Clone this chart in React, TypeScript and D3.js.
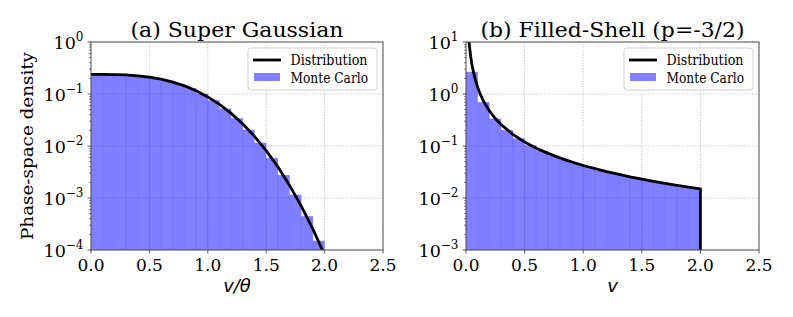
import React from 'react'
import * as d3 from 'd3'

// histogram bin edges (same for both panels)
const binEdges = [0.0, 0.1, 0.2, 0.3, 0.4, 0.5, 0.6, 0.7, 0.8, 0.9, 1.0, 1.1, 1.2, 1.3, 1.4, 1.5, 1.6, 1.7, 1.8, 1.9, 2.0]

// (a) super gaussian
const gaussCurveV = [0.0, 0.1, 0.2, 0.3, 0.4, 0.5, 0.6, 0.7, 0.8, 0.9, 1.0, 1.1, 1.2, 1.3, 1.4, 1.5, 1.6, 1.7, 1.8, 1.9, 2.0]
const gaussCurveF = [0.2387, 0.2385, 0.2368, 0.2323, 0.2239, 0.2107, 0.1923, 0.1693, 0.143, 0.1151, 0.0878, 0.0631, 0.0424, 0.0265, 0.01536, 0.00817, 0.00397, 0.00175, 0.0007, 0.000251, 0.00008]
const gaussHist = [0.2389, 0.2375, 0.2352, 0.2283, 0.2180, 0.2016, 0.1814, 0.1560, 0.1294, 0.1011, 0.0754, 0.0521, 0.0341, 0.0205, 0.01150, 0.00584, 0.00275, 0.00115, 0.000446, 0.000150]

// (b) filled shell p=-3/2
const shellCurveV = [0.02, 0.025, 0.03, 0.04, 0.05, 0.06, 0.08, 0.1, 0.12, 0.15, 0.2, 0.25, 0.3, 0.4, 0.5, 0.6, 0.7, 0.8, 0.9, 1.0, 1.2, 1.4, 1.6, 1.8, 2.0, 2.0]
const shellCurveF = [14.92, 10.68, 8.12, 5.275, 3.775, 2.871, 1.865, 1.3345, 1.015, 0.7264, 0.4718, 0.3376, 0.2568, 0.1668, 0.1194, 0.0908, 0.0721, 0.059, 0.0494, 0.0422, 0.0321, 0.02548, 0.02085, 0.01747, 0.01492, 0.0001]
const shellHist = [2.66, 0.695, 0.334, 0.2018, 0.1395, 0.1029, 0.0806, 0.0646, 0.0539, 0.0454, 0.0393, 0.0341, 0.0303, 0.0268, 0.02420, 0.02183, 0.01995, 0.01820, 0.01680, 0.01546]

const xTicks = [0, 0.5, 1.0, 1.5, 2.0, 2.5]
const xTickLabels = ['0.0', '0.5', '1.0', '1.5', '2.0', '2.5']
const gaussExps = [-4, -3, -2, -1, 0]
const shellExps = [-3, -2, -1, 0, 1]

const SERIF = '"DejaVu Serif", serif'
const SANS = '"DejaVu Sans", sans-serif'
const MINUS = '\u2212'

type PanelProps = {
  id: string
  left: number
  right: number
  title: string
  titleLen: number
  xlabel: string
  exps: number[]
  curveV: number[]
  curveF: number[]
  hist: number[]
  ylabel?: boolean
}

const top = 42
const bottom = 250

const Panel = ({id, left, right, title, titleLen, xlabel, exps, curveV, curveF, hist, ylabel}: PanelProps) => {
  const x = d3.scaleLinear().domain([0, 2.5]).range([left, right])
  const y = d3.scaleLog()
    .domain([Math.pow(10, exps[0]), Math.pow(10, exps[exps.length - 1])])
    .range([bottom, top])

  const line = d3.line<number>()
    .x((_, i) => x(curveV[i]))
    .y(d => y(d))

  const minor: number[] = []
  exps.slice(0, -1).forEach(e => {
    for (let k = 2; k <= 9; k++) minor.push(k * Math.pow(10, e))
  })

  const lx = right - 135
  const ly = top + 6

  return (
    <g>
      <defs>
        <clipPath id={id}>
          <rect x={left} y={top} width={right - left} height={bottom - top} />
        </clipPath>
      </defs>
      {/* grid */}
      <g stroke="#b0b0b0" strokeWidth={0.8} strokeDasharray="1,1.6">
        {xTicks.map(t => <line key={t} x1={x(t)} x2={x(t)} y1={top} y2={bottom} />)}
        {exps.map(e => <line key={e} x1={left} x2={right} y1={y(Math.pow(10, e))} y2={y(Math.pow(10, e))} />)}
      </g>
      {/* histogram */}
      <g clipPath={`url(#${id})`}>
        {hist.map((h, i) => (
          <rect key={i}
            x={x(binEdges[i])}
            y={y(h)}
            width={x(binEdges[i + 1]) - x(binEdges[i])}
            height={bottom - y(h)}
            fill="#0000ff"
            fillOpacity={0.5}
            stroke="#0000ff"
            strokeOpacity={0.08}
            strokeWidth={1}
          />
        ))}
        <path d={line(curveF) || ''} fill="none" stroke="#000" strokeWidth={2.8} />
      </g>
      {/* frame */}
      <rect x={left} y={top} width={right - left} height={bottom - top} fill="none" stroke="#555" strokeWidth={1} />
      {/* x ticks */}
      {xTicks.map((t, i) => (
        <g key={t}>
          <line x1={x(t)} x2={x(t)} y1={bottom} y2={bottom + 3.5} stroke="#333" strokeWidth={0.8} />
          <text x={x(t)} y={bottom + 21} textAnchor="middle" fontFamily={SERIF} fontSize={17} fill="#000">{xTickLabels[i]}</text>
        </g>
      ))}
      {/* y ticks */}
      {minor.map(m => (
        <line key={m} x1={left - 2} x2={left} y1={y(m)} y2={y(m)} stroke="#333" strokeWidth={0.6} />
      ))}
      {exps.map(e => (
        <g key={e}>
          <line x1={left - 3.5} x2={left} y1={y(Math.pow(10, e))} y2={y(Math.pow(10, e))} stroke="#333" strokeWidth={0.8} />
          <text x={left - 7.5} y={y(Math.pow(10, e)) + 6.5} textAnchor="end" fontFamily={SERIF} fill="#000">
            <tspan fontSize={17.5}>10</tspan>
            <tspan fontSize={12} dy={-7.5}>{e < 0 ? MINUS + Math.abs(e) : String(e)}</tspan>
          </text>
        </g>
      ))}
      {/* title */}
      <text x={(left + right) / 2 - titleLen / 2} y={36.5} textLength={titleLen} lengthAdjust="spacingAndGlyphs"
        fontFamily={SERIF} fontSize={20} fill="#000">{title}</text>
      {/* x label */}
      <text x={(left + right) / 2} y={292} textAnchor="middle" fontFamily={SANS} fontStyle="italic" fontSize={18} fill="#000">{xlabel}</text>
      {ylabel && (
        <text transform={`translate(33,${(top + bottom) / 2}) rotate(-90)`} x={-94} textLength={188} lengthAdjust="spacingAndGlyphs"
          fontFamily={SERIF} fontSize={17} fill="#000">Phase-space density</text>
      )}
      {/* legend */}
      <g>
        <rect x={lx} y={ly} width={129} height={42} rx={3} fill="#fff" fillOpacity={0.8} stroke="#d0d0d0" strokeWidth={1} />
        <line x1={lx + 5} x2={lx + 33} y1={ly + 12} y2={ly + 12} stroke="#000" strokeWidth={2.8} />
        <text x={lx + 42.5} y={ly + 16.5} textLength={77} lengthAdjust="spacingAndGlyphs" fontFamily={SERIF} fontSize={14} fill="#000">Distribution</text>
        <rect x={lx + 6} y={ly + 25} width={26} height={8} fill="#0000ff" fillOpacity={0.5} />
        <text x={lx + 42.5} y={ly + 34.5} textLength={77.5} lengthAdjust="spacingAndGlyphs" fontFamily={SERIF} fontSize={14} fill="#000">Monte Carlo</text>
      </g>
    </g>
  )
}

const App = () => {
  return (
    <svg width={793} height={317} style={{position: 'absolute', left: 0, top: 0, background: '#fff'}}>
      <Panel id="clipA" left={91} right={383} title="(a) Super Gaussian" titleLen={213}
        xlabel="v/θ" exps={gaussExps}
        curveV={gaussCurveV} curveF={gaussCurveF} hist={gaussHist} ylabel />
      <Panel id="clipB" left={466} right={759} title="(b) Filled-Shell (p=-3/2)" titleLen={264}
        xlabel="v" exps={shellExps}
        curveV={shellCurveV} curveF={shellCurveF} hist={shellHist} />
    </svg>
  )
}

export default App
